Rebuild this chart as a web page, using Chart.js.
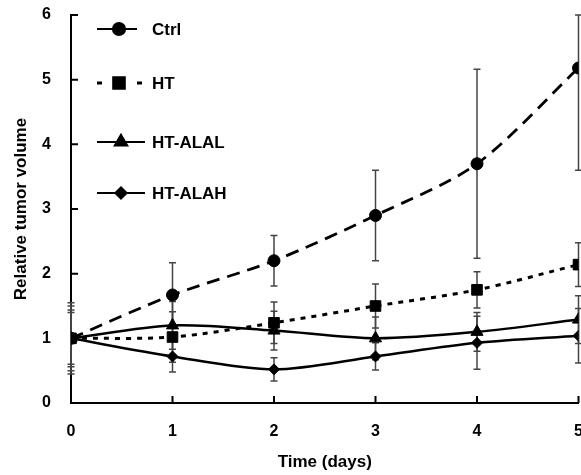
<!DOCTYPE html>
<html lang="en">
<head>
  <meta charset="UTF-8">
  <title>Relative tumor volume</title>
  <script src="https://cdn.jsdelivr.net/npm/chart.js"></script>
  <style>
    body { margin: 0; background: #fff; }
    .chart-container { width: 581px; height: 475px; }
  </style>
</head>
<body>
<div class="chart-container">
  <canvas id="tumorChart"></canvas>
</div>
<script>
  // data
  const days = [0, 1, 2, 3, 4, 5];
  const ctrl = [1, 1.67, 2.2, 2.9, 3.7, 5.18];
  const ht = [1, 1.02, 1.24, 1.5, 1.75, 2.14];
  const htAlal = [1, 1.2, 1.12, 1.0, 1.1, 1.29];
  const htAlah = [1, 0.72, 0.52, 0.72, 0.93, 1.04];
  const ctrlErr = [0.55, 0.5, 0.39, 0.7, 1.46, 1.58];
  const htErr = [0.5, 0.39, 0.32, 0.34, 0.28, 0.34];
  const htAlalErr = [0.44, 0.37, 0.3, 0.33, 0.3, 0.37];
  const htAlahErr = [0.4, 0.24, 0.18, 0.21, 0.41, 0.42];
  const seriesNames = ['Ctrl', 'HT', 'HT-ALAL', 'HT-ALAH'];

  const FONT = '"Liberation Sans", Arial, sans-serif';
  Chart.defaults.font.family = FONT;
  Chart.defaults.color = '#000';

  function pts(values) {
    return values.map((v, i) => ({ x: days[i], y: v }));
  }

  function makeSet(label, values, err, style, radius, dash, width) {
    return {
      label: label,
      data: pts(values),
      err: err,
      borderColor: '#000',
      backgroundColor: '#000',
      borderWidth: width,
      borderDash: dash,
      pointStyle: style,
      pointRadius: radius,
      pointBorderWidth: 1,
      tension: 0.3,
      fill: false
    };
  }

  // vertical error bars with caps
  const errorBars = {
    id: 'errorBars',
    beforeDatasetsDraw(chart) {
      const ctx = chart.ctx;
      const y = chart.scales.y;
      ctx.save();
      ctx.strokeStyle = '#444';
      ctx.lineWidth = 1.5;
      chart.data.datasets.forEach((ds, di) => {
        const meta = chart.getDatasetMeta(di);
        meta.data.forEach((p, i) => {
          const v = ds.data[i].y;
          const e = ds.err[i];
          const top = y.getPixelForValue(Math.min(v + e, y.max));
          const bot = y.getPixelForValue(Math.max(v - e, y.min));
          ctx.beginPath();
          ctx.moveTo(p.x, top);
          ctx.lineTo(p.x, bot);
          ctx.moveTo(p.x - 3.5, top);
          ctx.lineTo(p.x + 3.5, top);
          ctx.moveTo(p.x - 3.5, bot);
          ctx.lineTo(p.x + 3.5, bot);
          ctx.stroke();
        });
      });
      ctx.restore();
    }
  };

  // tick marks pointing into the plot
  const innerTicks = {
    id: 'innerTicks',
    afterDraw(chart) {
      const ctx = chart.ctx;
      const { x, y } = chart.scales;
      ctx.save();
      ctx.strokeStyle = '#000';
      ctx.lineWidth = 2;
      ctx.beginPath();
      y.ticks.forEach(t => {
        const py = y.getPixelForValue(t.value);
        ctx.moveTo(x.left, py);
        ctx.lineTo(x.left + 7, py);
      });
      x.ticks.forEach(t => {
        const px = x.getPixelForValue(t.value);
        ctx.moveTo(px, y.bottom);
        ctx.lineTo(px, y.bottom - 7);
      });
      ctx.stroke();
      ctx.restore();
    }
  };

  // legend inside the plot, top left
  const insideLegend = {
    id: 'insideLegend',
    afterDraw(chart) {
      const ctx = chart.ctx;
      const rows = [29, 83, 142, 193];
      ctx.save();
      chart.data.datasets.forEach((ds, i) => {
        const cy = rows[i];
        const x1 = i >= 2 ? 145 : (i === 1 ? 142 : 137);
        ctx.strokeStyle = '#000';
        ctx.lineWidth = i === 1 ? 3 : 2.2;
        // HT sample is two short dashes around the marker, the rest are solid
        ctx.setLineDash(i === 1 ? [5, 35] : []);
        ctx.beginPath();
        ctx.moveTo(97, cy);
        ctx.lineTo(x1, cy);
        ctx.stroke();
        ctx.setLineDash([]);
        ctx.fillStyle = '#000';
        Chart.helpers.drawPoint(ctx, {
          pointStyle: ds.pointStyle,
          radius: ds.pointRadius,
          borderWidth: 1,
          rotation: 0
        }, i >= 2 ? 121 : 119, cy);
        ctx.fill();
        ctx.font = 'bold 17px ' + FONT;
        ctx.textBaseline = 'middle';
        ctx.textAlign = 'left';
        ctx.fillText(ds.label, 152, cy + 1);
      });
      ctx.restore();
    }
  };

  const ctx = document.getElementById('tumorChart').getContext('2d');
  new Chart(ctx, {
    type: 'line',
    data: {
      datasets: [
        makeSet(seriesNames[0], ctrl, ctrlErr, 'circle', 6, [13, 8], 2.8),
        makeSet(seriesNames[1], ht, htErr, 'rect', 7.5, [5, 6], 3),
        makeSet(seriesNames[2], htAlal, htAlalErr, 'triangle', 7, [], 2.5),
        makeSet(seriesNames[3], htAlah, htAlahErr, 'rectRot', 5.5, [], 2.5)
      ]
    },
    options: {
      responsive: true,
      maintainAspectRatio: false,
      animation: false,
      layout: { autoPadding: false, padding: { left: 0, right: 2.5, top: 15, bottom: 0 } },
      plugins: {
        legend: { display: false },
        tooltip: { enabled: false }
      },
      scales: {
        x: {
          type: 'linear',
          min: 0,
          max: 5,
          grid: { display: false, drawTicks: false },
          border: { display: true, color: '#000', width: 2 },
          ticks: {
            stepSize: 1,
            padding: 19,
            font: { size: 16, weight: 'bold' },
            color: '#000'
          },
          title: {
            display: true,
            text: 'Time (days)',
            font: { size: 17, weight: 'bold' },
            color: '#000',
            padding: { top: 0, bottom: 2 }
          },
          afterFit(scale) {
            scale.height = 72;
            scale.paddingLeft = 0;
            scale.paddingRight = 0;
          }
        },
        y: {
          min: 0,
          max: 6,
          grid: { display: false, drawTicks: false },
          border: { display: true, color: '#000', width: 2 },
          ticks: {
            stepSize: 1,
            padding: 20,
            font: { size: 16, weight: 'bold' },
            color: '#000'
          },
          title: {
            display: true,
            text: 'Relative tumor volume',
            font: { size: 17, weight: 'bold' },
            color: '#000',
            padding: { top: 11, bottom: 0 }
          },
          afterFit(scale) {
            scale.width = 71;
            scale.paddingTop = 0;
            scale.paddingBottom = 0;
          }
        }
      }
    },
    plugins: [errorBars, innerTicks, insideLegend]
  });
</script>
</body>
</html>
